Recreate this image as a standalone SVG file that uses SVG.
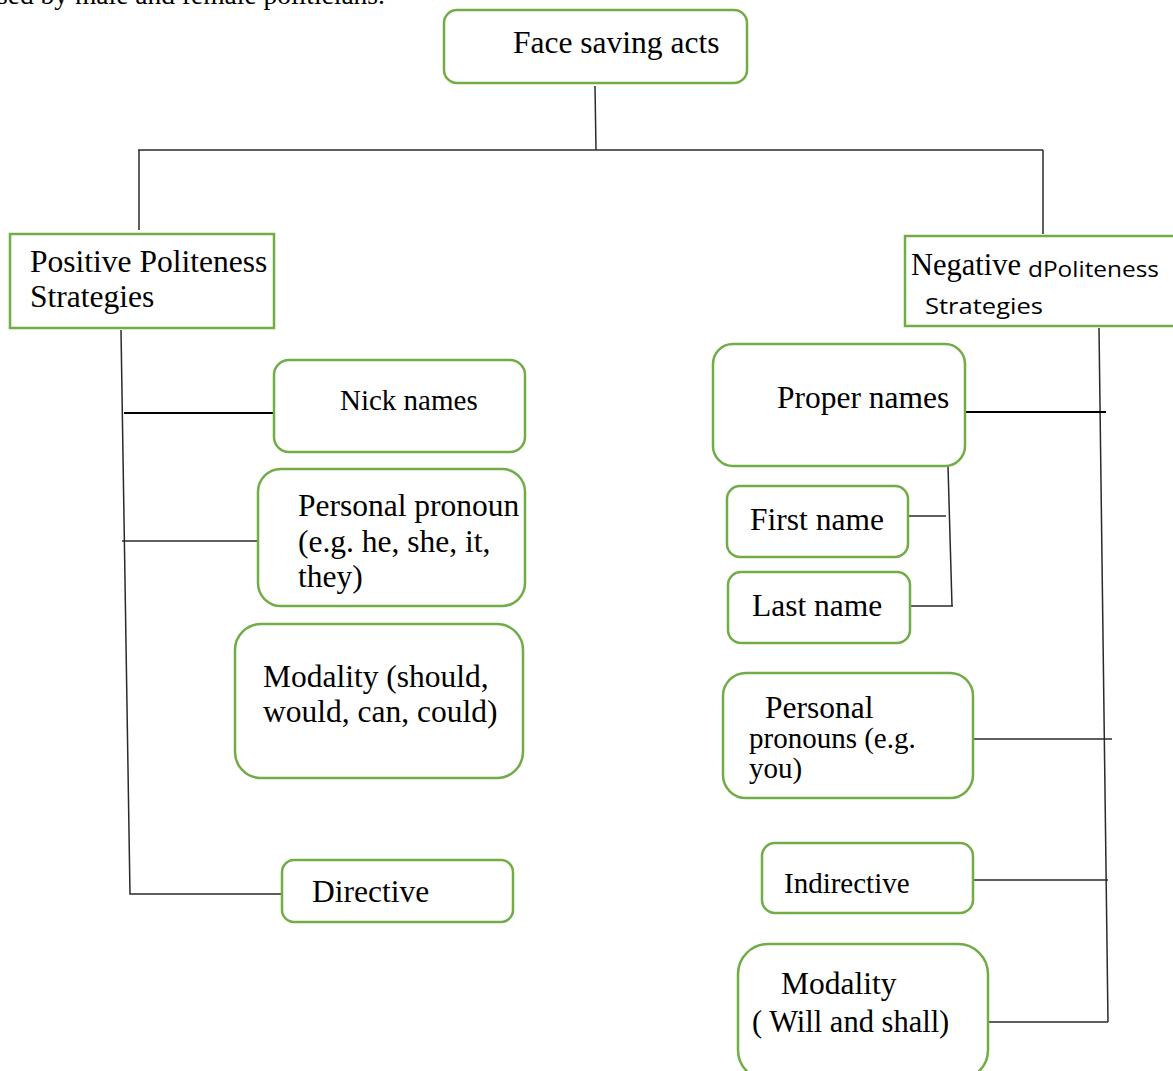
<svg xmlns="http://www.w3.org/2000/svg" width="1173" height="1071" viewBox="0 0 1173 1071">
<style>
.bg{fill:#ffffff}
.box{fill:#ffffff;stroke:#70AD47;stroke-width:2.5}
.t{font-family:"Liberation Serif","Times New Roman",serif;font-size:31.5px;fill:#000}
.s29{font-size:29px}
.s30{font-size:30.5px}
.sans{font-family:"Open Sans","Liberation Sans",Arial,sans-serif;font-size:22px;fill:#000}
.conn{stroke:#2a2a2a;stroke-width:1.5;fill:none}
.thick{stroke:#000;stroke-width:2}
</style>
<rect class="bg" x="0" y="0" width="1173" height="1071"/>
<text class="t" x="-3" y="4" style="font-size:27.5px">sed by male and female politicians.</text>

<g id="connectors">
  <path class="conn" d="M595,86 L596,150"/>
  <path class="conn" d="M138,150 L1043,150"/>
  <path class="conn" d="M139,150 L139,230"/>
  <path class="conn" d="M1043,150 L1043,234"/>
  <path class="conn" d="M121,330 L130,894 L282,894"/>
  <path class="conn thick" d="M124,413 L280,413"/>
  <path class="conn" d="M122,541 L258,541"/>
  <path class="conn" d="M1099,328 L1108,1022"/>
  <path class="conn thick" d="M965,412 L1106,412"/>
  <path class="conn" d="M948,466 L952,606"/>
  <path class="conn" d="M908,516 L946,516"/>
  <path class="conn" d="M910,606 L953,606"/>
  <path class="conn" d="M973,739 L1112,739"/>
  <path class="conn" d="M973,880 L1108,880"/>
  <path class="conn" d="M988,1022 L1108,1022"/>
</g>

<g id="face-saving-acts">
  <rect class="box" x="444" y="10" width="303" height="73" rx="13"/>
  <text class="t" x="513" y="53">Face saving acts</text>
</g>

<g id="positive-politeness">
  <rect class="box" x="10" y="234" width="264" height="94"/>
  <text class="t" x="30" y="272">Positive Politeness</text>
  <text class="t" x="30" y="307">Strategies</text>
</g>

<g id="negative-politeness">
  <rect class="box" x="905" y="236" width="275" height="90"/>
  <text class="t s30" x="911" y="275">Negative</text>
  <text class="sans" x="1028" y="277" textLength="131" lengthAdjust="spacingAndGlyphs">dPoliteness</text>
  <text class="sans" x="925" y="314" textLength="118" lengthAdjust="spacingAndGlyphs">Strategies</text>
</g>

<g id="nick-names">
  <rect class="box" x="274" y="360" width="251" height="92" rx="15"/>
  <text class="t s29" x="340" y="410">Nick names</text>
</g>

<g id="personal-pronoun">
  <rect class="box" x="258" y="469" width="267" height="137" rx="23"/>
  <text class="t" x="298" y="516">Personal pronoun</text>
  <text class="t" x="298" y="552">(e.g. he, she, it,</text>
  <text class="t" x="298" y="587">they)</text>
</g>

<g id="modality-positive">
  <rect class="box" x="235" y="624" width="288" height="154" rx="26"/>
  <text class="t" x="263" y="687">Modality (should,</text>
  <text class="t" x="263" y="722">would, can, could)</text>
</g>

<g id="directive">
  <rect class="box" x="282" y="860" width="231" height="62" rx="12"/>
  <text class="t" x="312" y="902">Directive</text>
</g>

<g id="proper-names">
  <rect class="box" x="713" y="344" width="252" height="122" rx="20"/>
  <text class="t" x="777" y="408">Proper names</text>
</g>

<g id="first-name">
  <rect class="box" x="727" y="486" width="181" height="71" rx="13"/>
  <text class="t" x="750" y="530">First name</text>
</g>

<g id="last-name">
  <rect class="box" x="728" y="572" width="182" height="71" rx="13"/>
  <text class="t" x="752" y="616">Last name</text>
</g>

<g id="personal-pronouns-negative">
  <rect class="box" x="723" y="673" width="250" height="125" rx="23"/>
  <text class="t" x="765" y="718">Personal</text>
  <text class="t s29" x="749" y="748">pronouns (e.g.</text>
  <text class="t s29" x="749" y="778">you)</text>
</g>

<g id="indirective">
  <rect class="box" x="762" y="843" width="211" height="70" rx="13"/>
  <text class="t s29" x="784" y="893">Indirective</text>
</g>

<g id="modality-negative">
  <rect class="box" x="738" y="944" width="250" height="136" rx="30"/>
  <text class="t" x="781" y="994">Modality</text>
  <text class="t s30" x="752" y="1032">( Will and shall)</text>
</g>
</svg>
